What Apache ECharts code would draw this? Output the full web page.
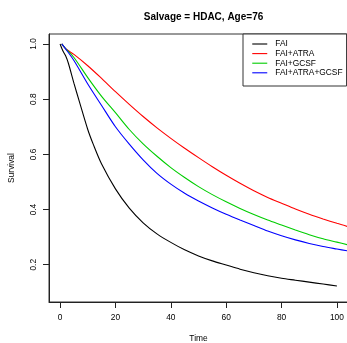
<!DOCTYPE html>
<html>
<head>
<meta charset="utf-8">
<script src="https://cdn.jsdelivr.net/npm/echarts@6/dist/echarts.min.js"></script>
<style>
  html, body { margin: 0; padding: 0; background: #fff; }
  #chart { width: 347px; height: 343px; }
</style>
</head>
<body>
<div id="chart"></div>
<script>
// ---- data ----
const titleText = 'Salvage = HDAC, Age=76';
const seriesNames = ['FAI', 'FAI+ATRA', 'FAI+GCSF', 'FAI+ATRA+GCSF'];
const xTicks = [0, 20, 40, 60, 80, 100];
const yTicks = [0.2, 0.4, 0.6, 0.8, 1.0];

const timesFAI = [0, 1, 2, 3, 5, 7, 10, 12, 15, 20, 25, 30, 35, 40, 45, 50, 55, 60, 65, 70, 75, 80, 85, 90, 95, 100];
const survFAI  = [1.0, 0.975, 0.957, 0.93, 0.858, 0.79, 0.69, 0.636, 0.565, 0.475, 0.405, 0.352, 0.312, 0.281, 0.254, 0.232, 0.214, 0.199, 0.184, 0.171, 0.160, 0.151, 0.144, 0.137, 0.130, 0.123];

const timesTrt = [0.6, 2, 5, 10, 15, 20, 25, 30, 35, 40, 45, 50, 55, 60, 65, 70, 75, 80, 85, 90, 95, 100, 104];
const survATRA     = [1.0, 0.983, 0.962, 0.921, 0.875, 0.827, 0.781, 0.737, 0.696, 0.658, 0.622, 0.588, 0.555, 0.524, 0.495, 0.468, 0.444, 0.423, 0.402, 0.383, 0.366, 0.350, 0.338];
const survGCSF     = [1.0, 0.983, 0.951, 0.878, 0.81, 0.751, 0.69, 0.638, 0.593, 0.552, 0.516, 0.483, 0.454, 0.428, 0.404, 0.382, 0.362, 0.344, 0.326, 0.309, 0.294, 0.282, 0.272];
const survATRAGCSF = [1.0, 0.982, 0.94, 0.855, 0.777, 0.70, 0.637, 0.58, 0.531, 0.492, 0.459, 0.431, 0.406, 0.383, 0.362, 0.342, 0.322, 0.305, 0.290, 0.277, 0.266, 0.257, 0.250];

const colors = ['#000000', '#FF0000', '#00CD00', '#0000FF'];

// ---- build ----
function pairs(xs, ys) { return xs.map((x, i) => [x, ys[i]]); }
const seriesData = [
  pairs(timesFAI, survFAI),
  pairs(timesTrt, survATRA),
  pairs(timesTrt, survGCSF),
  pairs(timesTrt, survATRAGCSF)
];

const FONT = "'Liberation Sans', Arial, Helvetica, sans-serif";
const chart = echarts.init(document.getElementById('chart'), null, { renderer: 'canvas' });

chart.setOption({
  animation: false,
  backgroundColor: '#ffffff',
  textStyle: { fontFamily: FONT },
  title: {
    text: titleText,
    left: 198.5,
    textAlign: 'center',
    top: 7,
    textStyle: { fontFamily: FONT, fontSize: 10, fontWeight: 'bold', color: '#000' }
  },
  grid: {
    left: 49, top: 34, right: -1, bottom: 41,
    containLabel: false,
    outerBoundsMode: 'none',
    show: true, borderColor: '#333', borderWidth: 1, backgroundColor: 'transparent'
  },
  legend: {
    orient: 'vertical',
    left: 243,
    top: 34,
    data: seriesNames,
    backgroundColor: '#fff',
    borderColor: '#333',
    borderWidth: 1,
    borderRadius: 0,
    padding: [5.2, 4, 8.4, 8.7],
    itemWidth: 15,
    itemHeight: 9.6,
    itemGap: 0,
    itemStyle: { opacity: 0 },
    lineStyle: { width: 1.1, opacity: 1 },
    textStyle: { fontFamily: FONT, fontSize: 8.4, color: '#000', lineHeight: 9.6, padding: [0, 0, 0, 3] }
  },
  xAxis: {
    type: 'value',
    min: -4,
    max: 104,
    name: 'Time',
    nameLocation: 'middle',
    nameGap: 33,
    nameTextStyle: { fontFamily: FONT, fontSize: 8.4, color: '#000' },
    axisLine: { show: true, onZero: false, lineStyle: { color: '#222', width: 1 } },
    axisTick: { show: true, inside: false, length: 6, lineStyle: { color: '#222', width: 1 }, customValues: xTicks },
    axisLabel: { show: true, fontFamily: FONT, fontSize: 8.4, color: '#000', margin: 12, customValues: xTicks },
    splitLine: { show: false }
  },
  yAxis: {
    type: 'value',
    min: 0.065,
    max: 1.036,
    name: 'Survival',
    nameLocation: 'middle',
    nameRotate: 90,
    nameGap: 33,
    nameTextStyle: { fontFamily: FONT, fontSize: 8.4, color: '#000' },
    axisLine: { show: true, onZero: false, lineStyle: { color: '#222', width: 1 } },
    axisTick: { show: true, inside: false, length: 6, lineStyle: { color: '#222', width: 1 }, customValues: yTicks },
    axisLabel: {
      show: true, rotate: 90, fontFamily: FONT, fontSize: 8.4, color: '#000', margin: 11,
      customValues: yTicks,
      formatter: v => v.toFixed(1)
    },
    splitLine: { show: false }
  },
  series: seriesNames.map((name, i) => ({
    name: name,
    type: 'line',
    data: seriesData[i],
    showSymbol: false,
    symbol: 'none',
    smooth: 0.3,
    clip: true,
    color: colors[i],
    itemStyle: { color: colors[i] },
    lineStyle: { color: colors[i], width: 1.1 },
    z: 2
  }))
});
</script>
</body>
</html>
